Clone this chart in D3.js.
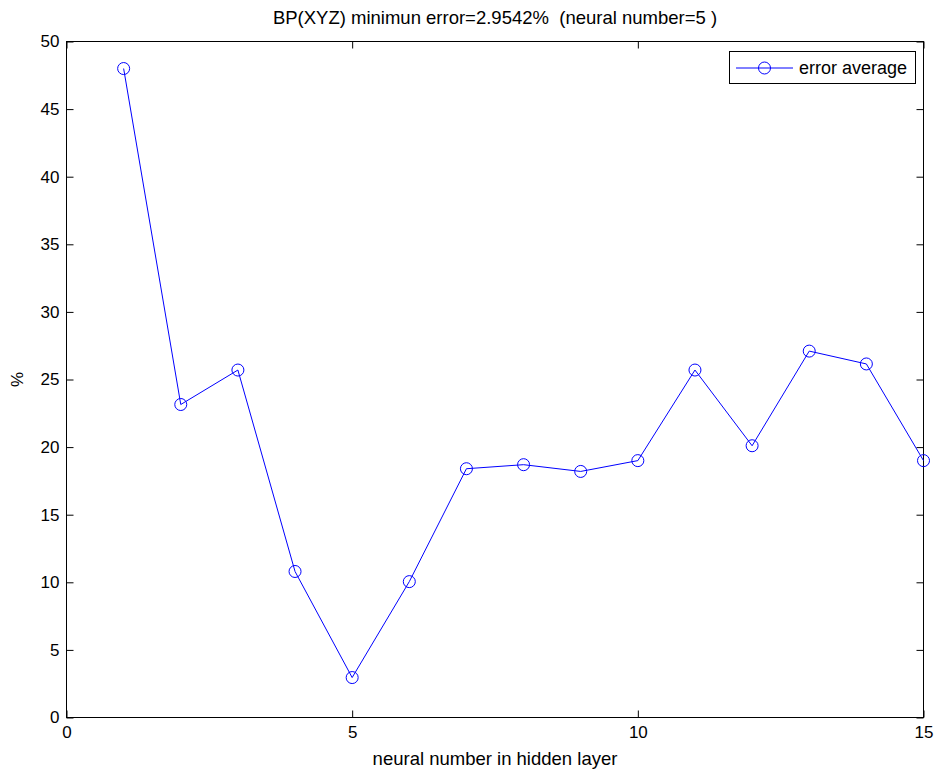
<!DOCTYPE html>
<html><head><meta charset="utf-8">
<script src="https://cdn.jsdelivr.net/npm/d3@7"></script>
<style>body{margin:0;background:#fff}text{font-family:"Liberation Sans",Arial,sans-serif;white-space:pre}</style>
</head><body>
<svg id="c" width="936" height="769"></svg>
<script>
const xValues = [1,2,3,4,5,6,7,8,9,10,11,12,13,14,15];
const errorAverage = [48.0,23.15,25.7,10.8,2.9542,10.05,18.4,18.7,18.2,19.0,25.7,20.1,27.1,26.15,19.0];
const xTicks = [0,5,10,15];
const yTicks = [0,5,10,15,20,25,30,35,40,45,50];
const titleText = "BP(XYZ) minimun error=2.9542%  (neural number=5 )";
const xLabel = "neural number in hidden layer";
const yLabel = "%";
const legendLabel = "error average";

const svg = d3.select("#c");
const L=66.5, R=923.5, T=41.5, B=717.5;
const x = d3.scaleLinear().domain([0,15]).range([L,R]);
const y = d3.scaleLinear().domain([0,50]).range([B,T]);
const tl = 7;
const g = svg.append("g");
g.append("g").attr("transform",`translate(0,${B})`)
 .call(d3.axisBottom(x).tickValues(xTicks).tickSizeInner(-tl).tickSizeOuter(0).tickPadding(8).tickFormat(d3.format("d")));
g.append("g").attr("transform",`translate(0,${T})`)
 .call(d3.axisTop(x).tickValues(xTicks).tickSizeInner(-tl).tickSizeOuter(0).tickFormat(""));
g.append("g").attr("transform",`translate(${L},0)`)
 .call(d3.axisLeft(y).tickValues(yTicks).tickSizeInner(-tl).tickSizeOuter(0).tickPadding(7).tickFormat(d3.format("d")));
g.append("g").attr("transform",`translate(${R},0)`)
 .call(d3.axisRight(y).tickValues(yTicks).tickSizeInner(-tl).tickSizeOuter(0).tickFormat(""));
g.selectAll(".domain").remove();
g.selectAll(".tick line").attr("stroke","#000");
g.selectAll(".tick text").attr("font-size",17).attr("fill","#000");
g.append("rect").attr("x",L).attr("y",T).attr("width",R-L).attr("height",B-T)
 .attr("fill","none").attr("stroke","#000").attr("stroke-width",1);

const line = d3.line().x((d,i)=>x(xValues[i])).y(d=>y(d));
svg.append("path").datum(errorAverage).attr("d",line).attr("fill","none").attr("stroke","#0000ff").attr("stroke-width",1);
svg.selectAll("circle.m").data(errorAverage).enter().append("circle").attr("class","m")
 .attr("cx",(d,i)=>x(xValues[i])).attr("cy",d=>y(d)).attr("r",6)
 .attr("fill","none").attr("stroke","#0000ff").attr("stroke-width",1);

svg.append("text").attr("x",(L+R)/2).attr("y",24).attr("text-anchor","middle").attr("font-size",18.5).text(titleText);
svg.append("text").attr("x",(L+R)/2).attr("y",765).attr("text-anchor","middle").attr("font-size",18.5).text(xLabel);
svg.append("text").attr("transform",`translate(23,${(T+B)/2}) rotate(-90)`).attr("text-anchor","middle").attr("font-size",17).text(yLabel);

const lg = svg.append("g");
lg.append("rect").attr("x",729.5).attr("y",51.5).attr("width",186).attr("height",32).attr("fill","#fff").attr("stroke","#000");
lg.append("line").attr("x1",736).attr("x2",793).attr("y1",68).attr("y2",68).attr("stroke","#0000ff");
lg.append("circle").attr("cx",764.5).attr("cy",68).attr("r",6).attr("fill","none").attr("stroke","#0000ff");
lg.append("text").attr("x",799).attr("y",74).attr("font-size",18).text(legendLabel);
</script></body></html>
